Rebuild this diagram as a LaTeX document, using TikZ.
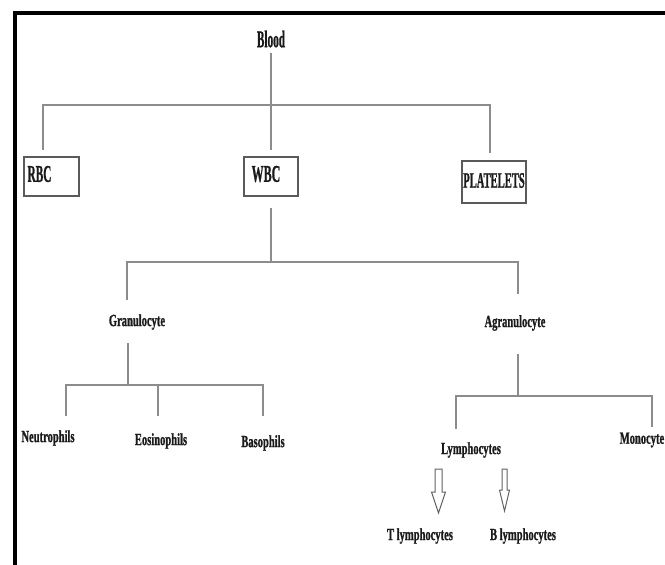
\documentclass[tikz,border=0pt]{standalone}
\usepackage{fontspec}
\setmainfont{Liberation Serif}
\newfontfamily\heavy{Liberation Serif}[UprightFont={* Bold}, FakeBold=1.3]
\usepackage{graphicx}
\definecolor{txtc}{HTML}{1A1A1A}
\definecolor{linec}{HTML}{8C8C8C}
\definecolor{boxc}{HTML}{5A5A5A}
\newcommand{\BigTxt}[2][0.47]{\scalebox{#1}[1]{\fontsize{24}{26}\heavy #2}}
\newcommand{\SmTxt}[1]{\scalebox{0.62}[1]{\fontsize{17}{19}\heavy #1}}
\begin{document}
\begin{tikzpicture}[x=1pt,y=-1pt,
 lbl/.style={inner sep=0pt, text=txtc},
 conn/.style={draw=linec, line width=1.2pt},
 cellbox/.style={draw=boxc, line width=1.4pt, inner sep=0pt},
 frameline/.style={draw=black, line width=4.5pt},
 hollow/.style={draw=linec!70!black, line width=1pt, fill=white, line join=miter}]
\useasboundingbox (0,0) rectangle (665,565);
\draw[frameline] (15,567) -- (15,13) -- (667,13);

% top level
\node[lbl] (blood) at (271,39) {\BigTxt{Blood}};
\node[cellbox, minimum width=55pt, minimum height=39pt] (rbcbox) at (51.5,176.5) {};
\node[lbl] (rbc) at (39.5,174) {\BigTxt{RBC}};
\node[cellbox, minimum width=54pt, minimum height=39pt] (wbcbox) at (271,176.5) {};
\node[lbl] (wbc) at (266,174) {\BigTxt[0.5]{WBC}};
\node[cellbox, minimum width=64pt, minimum height=42pt] (pltbox) at (494,182) {};
\node[lbl] (plt) at (494,180.5) {\scalebox{0.48}[1]{\fontsize{22}{24}\heavy PLATELETS}};

\coordinate (bus1) at (271,105);
\coordinate (rbcdrop) at (43,150);
\coordinate (wbcdrop) at (271,150);
\coordinate (pltdrop) at (490,153);
\draw[conn, shorten <=5pt] (blood) -- (bus1);
\draw[conn] (rbcdrop) |- (bus1) -| (pltdrop);
\draw[conn] (bus1) -- (wbcdrop);

% WBC branch
\coordinate (bus2) at (271,262);
\coordinate (granup) at (127,300);
\coordinate (agranup) at (518,294);
\draw[conn, shorten <=11pt] (wbcbox) -- (bus2);
\draw[conn] (granup) |- (bus2) -| (agranup);

\node[lbl] (gran) at (137,322) {\SmTxt{Granulocyte}};
\node[lbl] (agran) at (515,323) {\SmTxt{Agranulocyte}};

% granulocyte branch
\coordinate (granlow) at (128,343);
\coordinate (bus3) at (128,385);
\coordinate (neudrop) at (66,416);
\coordinate (eosdrop) at (158,416);
\coordinate (basdrop) at (263,416);
\draw[conn] (granlow) -- (bus3);
\draw[conn] (neudrop) |- (bus3) -| (basdrop);
\draw[conn] (eosdrop) -- (eosdrop |- bus3);

\node[lbl] (neu) at (48,438) {\SmTxt{Neutrophils}};
\node[lbl] (eos) at (161,441) {\SmTxt{Eosinophils}};
\node[lbl] (bas) at (263,443) {\SmTxt{Basophils}};

% agranulocyte branch
\coordinate (agranlow) at (518,354);
\coordinate (bus4) at (518,396);
\coordinate (lymdrop) at (456,429);
\coordinate (mondrop) at (652,427);
\draw[conn] (agranlow) -- (bus4);
\draw[conn] (lymdrop) |- (bus4) -| (mondrop);

\node[lbl] (lym) at (471,450) {\SmTxt{Lymphocytes}};
\node[lbl] (mon) at (642,440) {\SmTxt{Monocyte}};

% hollow arrows
\coordinate (ta) at (438.5,469);
\coordinate (tb) at (504.5,469);
\draw[hollow] (ta) ++(-3.5,0) -- ++(0,23) -- ++(-3.5,0) -- ++(7,21) -- ++(7,-21) -- ++(-3.5,0) -- ++(0,-23) -- cycle;
\draw[hollow] (tb) ++(-2.5,0) -- ++(0,21) -- ++(-2.5,0) -- ++(5,21) -- ++(5,-21) -- ++(-2.5,0) -- ++(0,-21) -- cycle;

\node[lbl] (tly) at (420,536) {\SmTxt{T lymphocytes}};
\node[lbl] (bly) at (523,536) {\SmTxt{B lymphocytes}};
\end{tikzpicture}
\end{document}
